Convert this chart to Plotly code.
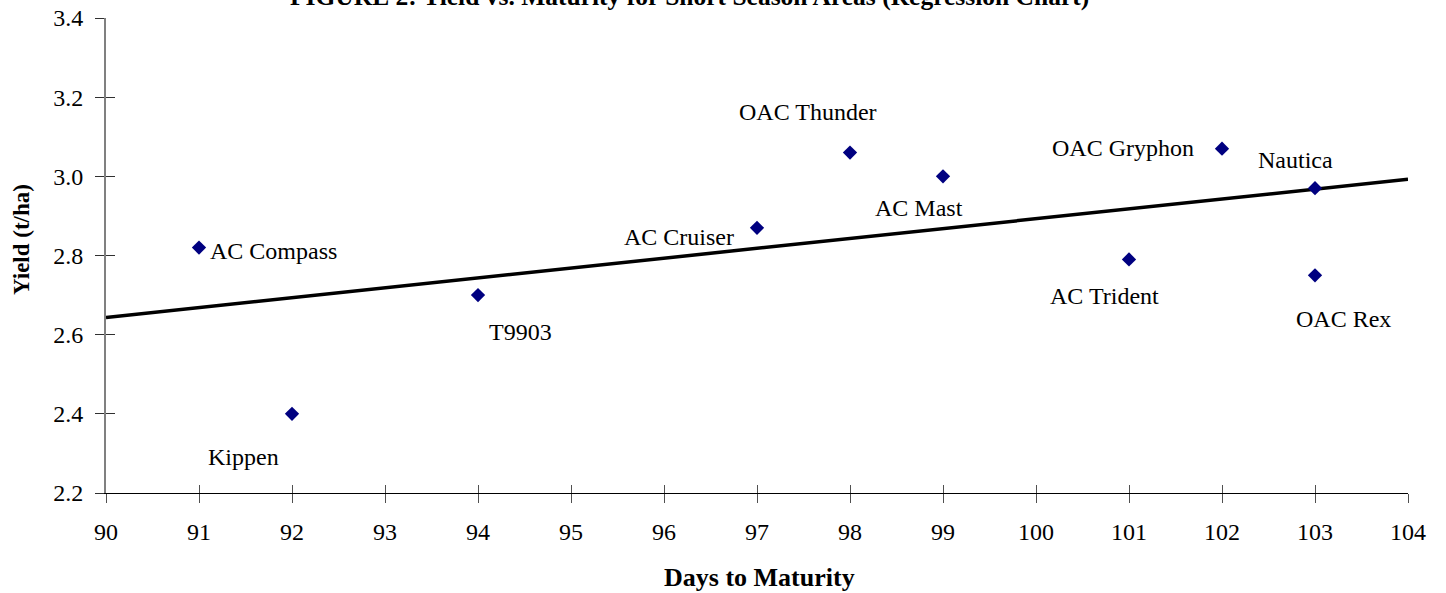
import numpy as np
import plotly.graph_objects as go

# ---- data ----
varieties = ["AC Compass", "Kippen", "T9903", "AC Cruiser", "OAC Thunder",
             "AC Mast", "AC Trident", "OAC Gryphon", "Nautica", "OAC Rex"]
days = [91, 92, 94, 97, 98, 99, 101, 102, 103, 103]
yield_tha = [2.82, 2.40, 2.70, 2.87, 3.06, 3.00, 2.79, 3.07, 2.97, 2.75]
x_ticks = list(range(90, 105))
y_ticks = [2.2, 2.4, 2.6, 2.8, 3.0, 3.2, 3.4]

# label offsets in pixels (dx right, dy down) -- styling only
label_offsets = {
    "AC Compass": (74, 3), "Kippen": (-49, 43), "T9903": (42, 37),
    "AC Cruiser": (-78, 9), "OAC Thunder": (-42, -41), "AC Mast": (-24, 32),
    "AC Trident": (-25, 37), "OAC Gryphon": (-99, -1), "Nautica": (-20, -28),
    "OAC Rex": (28, 44),
}

FONT = "Times New Roman, Liberation Serif, serif"
FS = 24

# regression line
slope, intercept = np.polyfit(days, yield_tha, 1)
line_x = [x_ticks[0], x_ticks[-1]]
line_y = [slope * v + intercept for v in line_x]

fig = go.Figure()
fig.add_trace(go.Scatter(x=line_x, y=line_y, mode="lines",
                         line=dict(color="black", width=3.5),
                         hoverinfo="skip", showlegend=False))
fig.add_trace(go.Scatter(x=days, y=yield_tha, mode="markers",
                         marker=dict(symbol="diamond", size=11, color="#000080",
                                     line=dict(width=0)),
                         text=varieties, showlegend=False))
# dummy trace to realize overlay axes (cross ticks)
fig.add_trace(go.Scatter(x=[None], y=[None], xaxis="x2", yaxis="y2",
                         mode="markers", showlegend=False, hoverinfo="skip"))

annotations = []
for name, xv, yv in zip(varieties, days, yield_tha):
    dx, dy = label_offsets[name]
    annotations.append(dict(x=xv, y=yv, xref="x", yref="y", text=name,
                            showarrow=False, xanchor="center", yanchor="middle",
                            xshift=dx, yshift=-dy,
                            font=dict(family=FONT, size=FS, color="black")))

annotations.append(dict(x=0.4485, y=1, xref="paper", yref="paper",
                        text="<b>FIGURE 2: Yield vs. Maturity for Short Season Areas (Regression Chart)</b>",
                        showarrow=False, xanchor="center", yanchor="bottom", yshift=5,
                        font=dict(family=FONT, size=25.5, color="black")))
annotations.append(dict(x=(759 - 106) / 1302, y=(493 - 577) / 475, xref="paper", yref="paper",
                        text="<b>Days to Maturity</b>", showarrow=False,
                        xanchor="center", yanchor="middle",
                        font=dict(family=FONT, size=26, color="black")))
annotations.append(dict(x=(22 - 106) / 1302, y=(493 - 240) / 475, xref="paper", yref="paper",
                        text="<b>Yield (t/ha)</b>", showarrow=False, textangle=-90,
                        xanchor="center", yanchor="middle",
                        font=dict(family=FONT, size=23, color="black")))

axis_common = dict(showgrid=False, zeroline=False, automargin=False)
fig.update_layout(
    width=1446, height=593,
    margin=dict(l=106, r=38, t=18, b=100, pad=0),
    paper_bgcolor="white", plot_bgcolor="white",
    font=dict(family=FONT, size=FS, color="black"),
    xaxis=dict(range=[90, 104], tickvals=x_ticks, ticktext=[str(v) for v in x_ticks],
               ticks="outside", ticklen=9, tickwidth=1.2, tickcolor="#505050",
               showline=True, linecolor="black", linewidth=1.2,
               tickfont=dict(family=FONT, size=FS, color="black"),
               ticklabelstandoff=8, **axis_common),
    yaxis=dict(range=[2.2, 3.4], tickvals=y_ticks, ticktext=[f"{v:.1f}" for v in y_ticks],
               ticks="outside", ticklen=9, tickwidth=1.2, tickcolor="#303030",
               showline=True, linecolor="#808080", linewidth=2,
               tickfont=dict(family=FONT, size=FS, color="black"),
               ticklabelstandoff=7, **axis_common),
    xaxis2=dict(range=[90, 104], tickvals=x_ticks, overlaying="x", anchor="y2", side="bottom",
                ticks="inside", ticklen=8, tickwidth=1.2, tickcolor="#505050",
                showticklabels=False, showline=False, **axis_common),
    yaxis2=dict(range=[2.2, 3.4], tickvals=y_ticks, overlaying="y", anchor="x2", side="left",
                ticks="inside", ticklen=9, tickwidth=1.2, tickcolor="#303030",
                showticklabels=False, showline=False, **axis_common),
    annotations=annotations,
    showlegend=False,
)

fig.write_html("out.html", config={"displayModeBar": False},
               post_script="document.body.style.margin='0';document.body.style.overflow='hidden';")
